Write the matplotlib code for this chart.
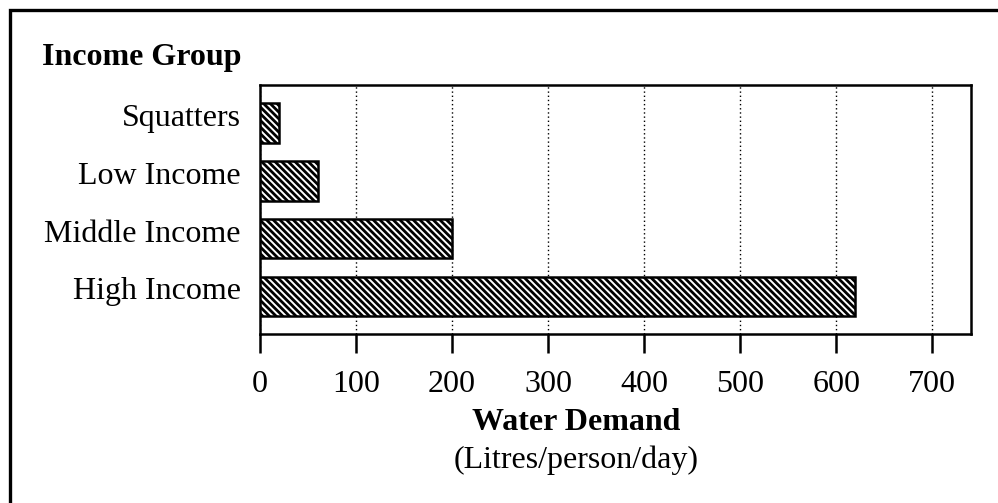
import matplotlib.pyplot as plt
from matplotlib.patches import Rectangle
from matplotlib.transforms import ScaledTranslation

plt.rcParams["font.family"] = ["Liberation Serif", "DejaVu Serif"]
plt.rcParams["hatch.linewidth"] = 2.0

groups = ["Squatters", "Low Income", "Middle Income", "High Income"]
demand = [20, 60, 200, 620]
xticks = [0, 100, 200, 300, 400, 500, 600, 700]

W, H = 998, 503
fig = plt.figure(figsize=(W / 100, H / 100), dpi=100)
ax = fig.add_axes([260 / W, 1 - 334 / H, 710.7 / W, 249 / H])

ypos = list(range(len(groups)))
ax.barh(ypos, demand, height=0.68, color="white", edgecolor="black",
        linewidth=1.8, hatch="\\\\\\\\\\", zorder=3)

ax.set_xlim(0, 740)
ax.set_ylim(3.65, -0.66)
ax.set_yticks(ypos)
ax.set_yticklabels(groups, fontsize=23)
ax.tick_params(axis="y", length=0, pad=14)
# the group names sit a little above the bar centres in the original
shift = ScaledTranslation(0, 8 / 100, fig.dpi_scale_trans)
for lbl in ax.get_yticklabels():
    lbl.set_transform(lbl.get_transform() + shift)

ax.set_xticks(xticks)
ax.set_xticklabels([str(t) for t in xticks], fontsize=23)
ax.tick_params(axis="x", length=14, width=1.8, pad=12, direction="out")
ax.grid(axis="x", color="black", linestyle=(0, (1, 2)), linewidth=1.0, zorder=1)
for s in ax.spines.values():
    s.set_linewidth(1.8)

fig.text(42 / W, 1 - 58 / H, "Income Group", fontsize=23, weight="bold",
         ha="left", va="center")
fig.text(576 / W, 1 - 422 / H, "Water Demand", fontsize=23, weight="bold",
         ha="center", va="center")
fig.text(576 / W, 1 - 460 / H, "(Litres/person/day)", fontsize=23,
         ha="center", va="center")

# outer frame, cut off at right and bottom like the original
fig.patches.append(Rectangle((9.5 / W, -0.05), 1.1, 1 - 9.5 / H + 0.05,
                             transform=fig.transFigure, fill=False,
                             edgecolor="black", linewidth=2.4))

fig.savefig("out.png", dpi=100)
